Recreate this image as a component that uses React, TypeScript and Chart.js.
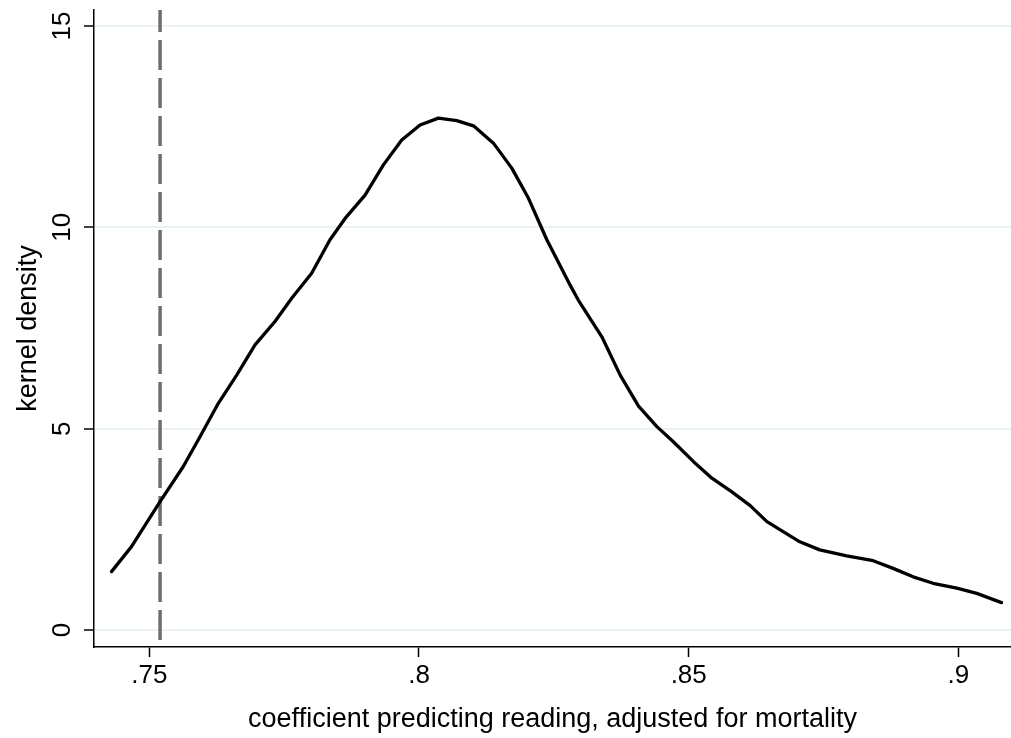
import React, { useEffect, useRef } from "react";
import { Chart, registerables } from "chart.js";

Chart.register(...registerables);

// Kernel density estimate
const coefValues: number[] = [
  0.7430, 0.7467, 0.7520, 0.7563, 0.7594, 0.7628, 0.7662, 0.7696, 0.7733, 0.7764,
  0.7801, 0.7835, 0.7863, 0.7900, 0.7934, 0.7968, 0.8002, 0.8036, 0.8070, 0.8101,
  0.8138, 0.8172, 0.8203, 0.8237, 0.8280, 0.8295, 0.8339, 0.8373, 0.8407, 0.8441,
  0.8471, 0.8509, 0.8543, 0.8580, 0.8614, 0.8645, 0.8706, 0.8743, 0.8793, 0.8842,
  0.8879, 0.8916, 0.8953, 0.8997, 0.9034, 0.9080,
];
const densityValues: number[] = [
  1.45, 2.07, 3.19, 4.06, 4.80, 5.63, 6.33, 7.08, 7.66, 8.24,
  8.86, 9.69, 10.22, 10.80, 11.55, 12.17, 12.54, 12.71, 12.65, 12.52,
  12.09, 11.47, 10.72, 9.69, 8.57, 8.20, 7.28, 6.33, 5.56, 5.05,
  4.68, 4.18, 3.77, 3.43, 3.09, 2.69, 2.19, 1.99, 1.84, 1.72,
  1.53, 1.32, 1.16, 1.04, 0.91, 0.68,
];
const referenceLineX = 0.752;

const xTicks: number[] = [0.75, 0.8, 0.85, 0.9];
const yTicks: number[] = [0, 5, 10, 15];
const xMin = 0.73975;
const xMax = 0.90975;
const yMin = -0.422;
const yMax = 15.396;

const xTitle = "coefficient predicting reading, adjusted for mortality";
const yTitle = "kernel density";

const FONT = "'Liberation Sans', Arial, Helvetica, sans-serif";

export default function App() {
  const canvasRef = useRef<HTMLCanvasElement | null>(null);

  useEffect(() => {
    const canvas = canvasRef.current;
    if (!canvas) return;
    const curve = coefValues.map((x, i) => ({ x, y: densityValues[i] }));
    const refLine = [
      { x: referenceLineX, y: yMax },
      { x: referenceLineX, y: yMin },
    ];
    const chart = new Chart(canvas, {
      type: "line",
      data: {
        datasets: [
          {
            data: curve,
            borderColor: "#000000",
            borderWidth: 3.3,
            pointRadius: 0,
            tension: 0,
            borderJoinStyle: "round",
            borderCapStyle: "round",
            fill: false,
            order: 0,
          },
          {
            data: refLine,
            borderColor: "#6e6e6e",
            borderWidth: 3.5,
            borderDash: [30, 8],
            borderDashOffset: 8,
            pointRadius: 0,
            tension: 0,
            fill: false,
            order: 1,
          },
        ],
      },
      options: {
        responsive: false,
        animation: false,
        devicePixelRatio: 1,
        layout: { padding: { top: 10, left: 0, right: 0, bottom: 0 } },
        plugins: {
          legend: { display: false },
          tooltip: { enabled: false },
        },
        scales: {
          x: {
            type: "linear",
            min: xMin,
            max: xMax,
            afterBuildTicks: (scale: any) => {
              scale.ticks = xTicks.map((v) => ({ value: v }));
            },
            afterFit: (scale: any) => {
              scale.height = 91;
              scale.paddingLeft = 0;
              scale.paddingRight = 0;
            },
            grid: {
              drawOnChartArea: false,
              drawTicks: true,
              tickLength: 10,
              tickColor: "#000000",
              tickWidth: 1.5,
            },
            border: { display: true, color: "#000000", width: 1.5 },
            ticks: {
              color: "#000000",
              font: { family: FONT, size: 26 },
              padding: 3,
              maxRotation: 0,
              minRotation: 0,
              autoSkip: false,
              callback: (value: any) => {
                const s = Number(value).toFixed(2).replace(/0+$/, "").replace(/\.$/, "");
                return s.replace(/^0\./, ".");
              },
            },
            title: {
              display: true,
              text: xTitle,
              color: "#000000",
              font: { family: FONT, size: 27, lineHeight: 1.2 },
              padding: { top: 0, bottom: 2 },
            },
          },
          y: {
            type: "linear",
            min: yMin,
            max: yMax,
            afterBuildTicks: (scale: any) => {
              scale.ticks = yTicks.map((v) => ({ value: v }));
            },
            afterFit: (scale: any) => {
              scale.width = 94;
              scale.paddingTop = 0;
              scale.paddingBottom = 0;
            },
            grid: {
              color: "rgb(234,242,243)",
              lineWidth: 2,
              drawTicks: true,
              tickLength: 10,
              tickColor: "#000000",
              tickWidth: 1.5,
            },
            border: { display: true, color: "#000000", width: 1.5 },
            ticks: {
              color: "#000000",
              font: { family: FONT, size: 26 },
              padding: 7,
              minRotation: 90,
              maxRotation: 90,
              crossAlign: "center",
              autoSkip: false,
              callback: (value: any) => String(Number(value)),
            },
            title: {
              display: true,
              text: yTitle,
              color: "#000000",
              font: { family: FONT, size: 27, lineHeight: 1.2 },
              padding: { top: 12, bottom: 0 },
            },
          },
        },
      } as any,
    });
    return () => chart.destroy();
  }, []);

  return (
    <div style={{ position: "absolute", left: 0, top: 0, width: 1011, height: 738, background: "#ffffff" }}>
      <canvas ref={canvasRef} width={1011} height={738} style={{ display: "block" }} />
    </div>
  );
}
